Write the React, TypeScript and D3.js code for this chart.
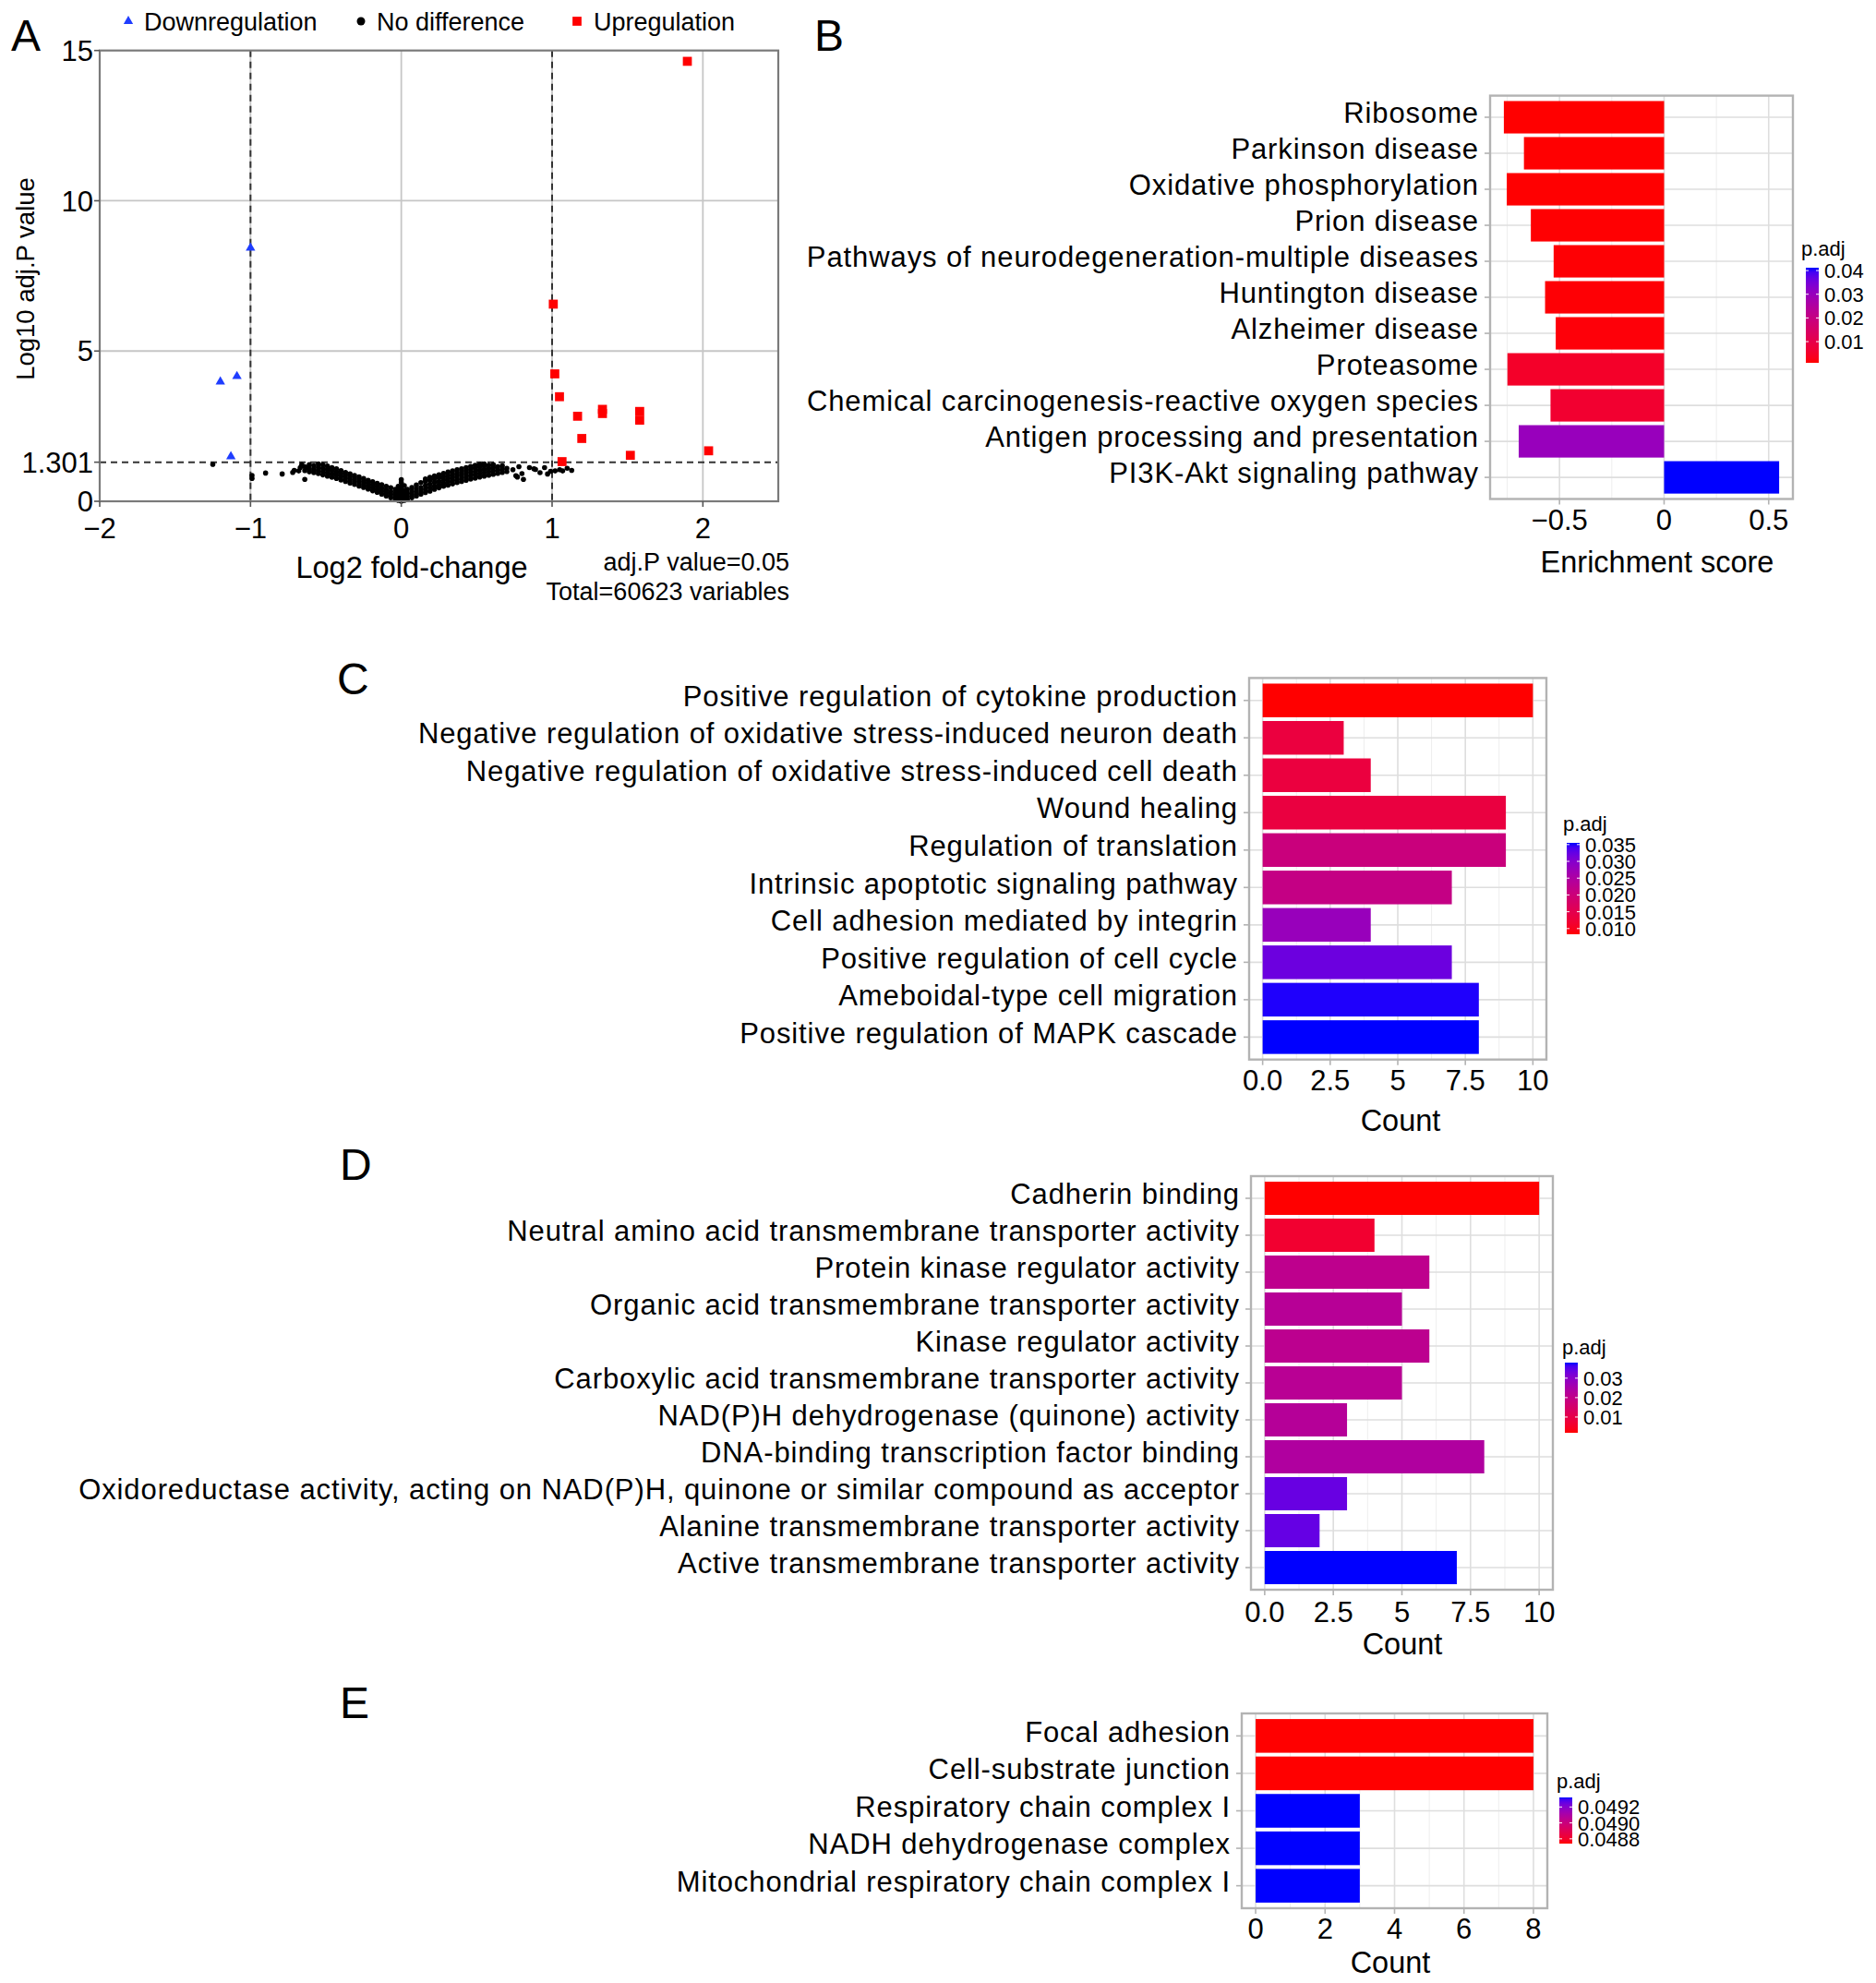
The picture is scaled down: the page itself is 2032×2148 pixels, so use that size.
import React from 'react';
import * as d3 from 'd3';

const FONT = "'Liberation Sans', Arial, Helvetica, sans-serif";

// ---------------- Panel A (volcano) data ----------------
const aXDomain: [number, number] = [-2, 2.5];
const aYDomain: [number, number] = [0, 15];
const aXTicks = [-2, -1, 0, 1, 2];
const aXTickLabels = ['\u22122', '\u22121', '0', '1', '2'];
const aYTicks = [0, 1.301, 5, 10, 15];
const aYTickLabels = ['0', '1.301', '5', '10', '15'];
const aXGrid = [-1, 0, 1, 2];
const aYGrid = [5, 10];
const aFoldCut = [-1, 1];
const aPCut = 1.301;

const downPoints: [number, number][] = [
  [-1.0, 8.43], [-1.2, 3.98], [-1.09, 4.16], [-1.13, 1.49],
];
const upPoints: [number, number][] = [
  [1.897, 14.64], [1.008, 6.56], [1.018, 4.24], [1.049, 3.48], [1.169, 2.83],
  [1.334, 3.06], [1.334, 2.92], [1.581, 2.99], [1.581, 2.7], [1.197, 2.09],
  [1.519, 1.53], [2.038, 1.68], [1.066, 1.32],
];
// no-difference cloud, read column by column: [log2FC, [log10 adj.P values]]
const noDiffColumns: [number, number[]][] = [
  [-0.64, [1.02, 1.15]],
  [-0.61, [0.98, 1.1, 1.22]],
  [-0.58, [0.95, 1.06, 1.18]],
  [-0.55, [0.92, 1.02, 1.13, 1.24]],
  [-0.52, [0.88, 0.99, 1.1, 1.21]],
  [-0.49, [0.84, 0.95, 1.06, 1.17]],
  [-0.46, [0.8, 0.91, 1.02, 1.12]],
  [-0.43, [0.76, 0.87, 0.97, 1.08]],
  [-0.4, [0.71, 0.82, 0.92, 1.02]],
  [-0.37, [0.66, 0.77, 0.87, 0.96]],
  [-0.34, [0.61, 0.72, 0.82, 0.91]],
  [-0.31, [0.56, 0.67, 0.77, 0.86]],
  [-0.28, [0.51, 0.62, 0.72, 0.81]],
  [-0.25, [0.46, 0.56, 0.66, 0.76]],
  [-0.22, [0.41, 0.51, 0.61, 0.7]],
  [-0.19, [0.35, 0.45, 0.55, 0.65]],
  [-0.16, [0.3, 0.4, 0.5, 0.6]],
  [-0.13, [0.24, 0.34, 0.44, 0.55]],
  [-0.1, [0.18, 0.28, 0.38, 0.5]],
  [-0.07, [0.12, 0.22, 0.32, 0.45]],
  [-0.04, [0.06, 0.16, 0.27, 0.4]],
  [-0.02, [0.03, 0.12, 0.24, 0.36, 0.5]],
  [0.0, [0.0, 0.1, 0.22, 0.35, 0.48, 0.62, 0.72]],
  [0.02, [0.03, 0.12, 0.24, 0.36, 0.52]],
  [0.04, [0.06, 0.16, 0.27, 0.4]],
  [0.07, [0.12, 0.22, 0.33, 0.46]],
  [0.1, [0.18, 0.28, 0.4, 0.54]],
  [0.13, [0.24, 0.34, 0.46, 0.62]],
  [0.16, [0.29, 0.4, 0.52, 0.66, 0.74]],
  [0.19, [0.34, 0.45, 0.57, 0.7, 0.8]],
  [0.22, [0.4, 0.5, 0.62, 0.74, 0.84]],
  [0.25, [0.45, 0.55, 0.66, 0.78, 0.88]],
  [0.28, [0.5, 0.6, 0.71, 0.82, 0.93]],
  [0.31, [0.54, 0.65, 0.76, 0.86, 0.97]],
  [0.34, [0.58, 0.69, 0.8, 0.9, 1.01]],
  [0.37, [0.62, 0.73, 0.84, 0.94, 1.05]],
  [0.4, [0.66, 0.77, 0.88, 0.98, 1.08]],
  [0.43, [0.7, 0.81, 0.92, 1.02, 1.12]],
  [0.46, [0.74, 0.85, 0.96, 1.06, 1.16]],
  [0.49, [0.77, 0.88, 0.99, 1.1, 1.2]],
  [0.52, [0.81, 0.92, 1.03, 1.14, 1.23]],
  [0.55, [0.84, 0.95, 1.06, 1.17, 1.24]],
  [0.58, [0.87, 0.98, 1.09, 1.2]],
  [0.61, [0.9, 1.01, 1.12, 1.22]],
  [0.64, [0.93, 1.04, 1.15]],
  [0.67, [0.96, 1.07, 1.18]],
  [0.7, [0.99, 1.1]],
];
const noDiffScatter: [number, number][] = [
  [-1.25, 1.23], [-0.99, 0.86], [-0.99, 0.76], [-0.9, 0.94], [-0.79, 0.91],
  [-0.72, 0.96], [-0.71, 1.03], [-0.68, 1.01], [-0.67, 1.12], [-0.64, 0.73],
  [-0.62, 1.12], [-0.58, 1.01], [-0.66, 1.22],
  [0.74, 1.05], [0.76, 0.85], [0.77, 0.81], [0.78, 1.15], [0.8, 0.92], [0.81, 0.73],
  [0.85, 1.12], [0.88, 1.08], [0.89, 1.06], [0.92, 0.95], [0.95, 1.12],
  [0.97, 0.91], [0.99, 1.0], [1.02, 1.01], [1.05, 1.05], [1.07, 1.01],
  [1.1, 1.1], [1.13, 1.03],
];

// ---------------- Panel B (KEGG GSEA) data ----------------
const bCategories = [
  'Ribosome', 'Parkinson disease', 'Oxidative phosphorylation', 'Prion disease',
  'Pathways of neurodegeneration-multiple diseases', 'Huntington disease',
  'Alzheimer disease', 'Proteasome', 'Chemical carcinogenesis-reactive oxygen species',
  'Antigen processing and presentation', 'PI3K-Akt signaling pathway',
];
const bScores = [-0.766, -0.67, -0.752, -0.637, -0.528, -0.569, -0.518, -0.749, -0.543, -0.695, 0.55];
const bPadj = [0.00105, 0.0011, 0.0011, 0.0012, 0.0013, 0.0014, 0.0016, 0.005, 0.006, 0.03, 0.0412];
const bTicks = [-0.5, 0, 0.5];
const bTickLabels = ['\u22120.5', '0', '0.5'];
const bMinor = [-0.75, -0.25, 0.25];
const bLegendTicks = [0.01, 0.02, 0.03, 0.04];
const bLegendLabels = ['0.01', '0.02', '0.03', '0.04'];

// ---------------- Panel C (GO BP) data ----------------
const cCategories = [
  'Positive regulation of cytokine production',
  'Negative regulation of oxidative stress-induced neuron death',
  'Negative regulation of oxidative stress-induced cell death',
  'Wound healing', 'Regulation of translation', 'Intrinsic apoptotic signaling pathway',
  'Cell adhesion mediated by integrin', 'Positive regulation of cell cycle',
  'Ameboidal-type cell migration', 'Positive regulation of MAPK cascade',
];
const cCounts = [10, 3, 4, 9, 9, 7, 4, 7, 8, 8];
const cPadj = [0.0083, 0.0132, 0.0132, 0.0134, 0.0205, 0.0214, 0.0279, 0.032, 0.0352, 0.0355];
const cdTicks = [0, 2.5, 5, 7.5, 10];
const cdTickLabels = ['0.0', '2.5', '5', '7.5', '10'];
const cdMinor = [1.25, 3.75, 6.25, 8.75];
const cLegendTicks = [0.01, 0.015, 0.02, 0.025, 0.03, 0.035];
const cLegendLabels = ['0.010', '0.015', '0.020', '0.025', '0.030', '0.035'];

// ---------------- Panel D (GO MF) data ----------------
const dCategories = [
  'Cadherin binding', 'Neutral amino acid transmembrane transporter activity',
  'Protein kinase regulator activity', 'Organic acid transmembrane transporter activity',
  'Kinase regulator activity', 'Carboxylic acid transmembrane transporter activity',
  'NAD(P)H dehydrogenase (quinone) activity', 'DNA-binding transcription factor binding',
  'Oxidoreductase activity, acting on NAD(P)H, quinone or similar compound as acceptor',
  'Alanine transmembrane transporter activity', 'Active transmembrane transporter activity',
];
const dCounts = [10, 4, 6, 5, 6, 5, 3, 8, 3, 2, 7];
const dPadj = [0.0019, 0.0063, 0.0207, 0.0222, 0.0211, 0.0218, 0.0225, 0.0236, 0.0337, 0.034, 0.038];
const dLegendTicks = [0.01, 0.02, 0.03];
const dLegendLabels = ['0.01', '0.02', '0.03'];

// ---------------- Panel E (GO CC) data ----------------
const eCategories = [
  'Focal adhesion', 'Cell-substrate junction', 'Respiratory chain complex I',
  'NADH dehydrogenase complex', 'Mitochondrial respiratory chain complex I',
];
const eCounts = [8, 8, 3, 3, 3];
const ePadj = [0.04874, 0.04874, 0.04932, 0.04932, 0.04932];
const eTicks = [0, 2, 4, 6, 8];
const eTickLabels = ['0', '2', '4', '6', '8'];
const eMinor = [1, 3, 5, 7];
const eLegendTicks = [0.0488, 0.049, 0.0492];
const eLegendLabels = ['0.0488', '0.0490', '0.0492'];

const LOW = '#ff0000';
const HIGH = '#0000ff';
const BORDER = '#b3b3b3';
const GRID = '#dedede';
const GRID_MINOR = '#eeeeee';

function VolcanoPanel() {
  const L = 108, R = 843, T = 54.7, B = 543;
  const x = d3.scaleLinear().domain(aXDomain).range([L, R]);
  const y = d3.scaleLinear().domain(aYDomain).range([B, T]);
  const cloud: [number, number][] = noDiffColumns
    .flatMap(([cx, ys]) => ys.map((v) => [cx, v] as [number, number]))
    .concat(noDiffScatter);
  const tri = d3.symbol(d3.symbolTriangle, 46)() as string;
  const sq = d3.symbol(d3.symbolSquare, 95)() as string;
  return (
    <g>
      <text x={12} y={55} fontSize={48}>A</text>
      {/* legend */}
      <path d={tri} transform="translate(139,23)" fill="#1f3dff" />
      <text x={156} y={32.5} fontSize={27}>Downregulation</text>
      <circle cx={391} cy={23} r={4.5} fill="#000" />
      <text x={408} y={32.5} fontSize={27}>No difference</text>
      <path d={sq} transform="translate(625,23)" fill="#ff0000" />
      <text x={643} y={32.5} fontSize={27}>Upregulation</text>

      <rect x={L} y={T} width={R - L} height={B - T} fill="#fff" />
      {aXGrid.map((v) => (
        <line key={'gx' + v} x1={x(v)} x2={x(v)} y1={T} y2={B} stroke="#c6c6c6" strokeWidth={1.8} />
      ))}
      {aYGrid.map((v) => (
        <line key={'gy' + v} x1={L} x2={R} y1={y(v)} y2={y(v)} stroke="#c6c6c6" strokeWidth={1.8} />
      ))}
      {aFoldCut.map((v) => (
        <line key={'fc' + v} x1={x(v)} x2={x(v)} y1={T} y2={B} stroke="#333" strokeWidth={2} strokeDasharray="7,5" />
      ))}
      <line x1={L} x2={R} y1={y(aPCut)} y2={y(aPCut)} stroke="#333" strokeWidth={2} strokeDasharray="7,5" />
      {cloud.map(([a, b], i) => (
        <circle key={'n' + i} cx={x(a)} cy={y(b)} r={2.8} fill="#000" />
      ))}
      {downPoints.map(([a, b], i) => (
        <path key={'d' + i} d={tri} transform={`translate(${x(a)},${y(b)})`} fill="#1f3dff" />
      ))}
      {upPoints.map(([a, b], i) => (
        <path key={'u' + i} d={sq} transform={`translate(${x(a)},${y(b)})`} fill="#ff0000" />
      ))}
      <rect x={L} y={T} width={R - L} height={B - T} fill="none" stroke="#7a7a7a" strokeWidth={2.2} />
      {aXTicks.map((v, i) => (
        <g key={'xt' + v}>
          <line x1={x(v)} x2={x(v)} y1={B} y2={B + 6} stroke="#555" strokeWidth={1.6} />
          <text x={x(v)} y={583} fontSize={31} textAnchor="middle">{aXTickLabels[i]}</text>
        </g>
      ))}
      {aYTicks.map((v, i) => (
        <g key={'yt' + v}>
          <line x1={L - 6} x2={L} y1={y(v)} y2={y(v)} stroke="#555" strokeWidth={1.6} />
          <text x={101} y={y(v)} dy="0.36em" fontSize={31} textAnchor="end">{aYTickLabels[i]}</text>
        </g>
      ))}
      <text x={446} y={626} fontSize={32.5} textAnchor="middle">Log2 fold-change</text>
      <text transform="translate(37,302) rotate(-90)" fontSize={27.5} textAnchor="middle">Log10 adj.P value</text>
      <text x={855} y={618} fontSize={27} textAnchor="end">adj.P value=0.05</text>
      <text x={855} y={650} fontSize={27} textAnchor="end">Total=60623 variables</text>
    </g>
  );
}

interface LegendSpec {
  id: string;
  titleX: number;
  titleY: number;
  barX: number;
  barTop: number;
  barBottom: number;
  ticks: number[];
  labels: string[];
}

interface BarPanelProps {
  letter: string;
  letterX: number;
  letterY: number;
  left: number;
  right: number;
  top: number;
  bottom: number;
  categories: string[];
  values: number[];
  padj: number[];
  ticks: number[];
  tickLabels: string[];
  minor: number[];
  tickLabelY: number;
  title: string;
  titleX: number;
  titleY: number;
  legend: LegendSpec;
}

function BarPanel(p: BarPanelProps) {
  const lo = Math.min(0, d3.min(p.values) as number);
  const hi = Math.max(0, d3.max(p.values) as number);
  const pad = (hi - lo) * 0.05;
  const x = d3.scaleLinear().domain([lo - pad, hi + pad]).range([p.left, p.right]);
  const y = d3.scalePoint<string>().domain(p.categories).range([p.top, p.bottom]).padding(0.6);
  const step = y.step();
  const bh = step * 0.9;
  const ext = d3.extent(p.padj) as [number, number];
  const color = d3.scaleLinear<string>().domain(ext).range([LOW, HIGH]).interpolate(d3.interpolateLab);
  const lg = p.legend;
  const ly = d3.scaleLinear().domain(ext).range([lg.barBottom, lg.barTop]);
  const barW = 14;
  const stops = d3.range(0, 1.0001, 0.05);
  const interp = d3.interpolateLab(LOW, HIGH);
  return (
    <g>
      <text x={p.letterX} y={p.letterY} fontSize={48}>{p.letter}</text>
      <rect x={p.left} y={p.top} width={p.right - p.left} height={p.bottom - p.top} fill="#fff" />
      {p.minor.map((v) => (
        <line key={'mn' + v} x1={x(v)} x2={x(v)} y1={p.top} y2={p.bottom} stroke={GRID_MINOR} strokeWidth={1} />
      ))}
      {p.ticks.map((v) => (
        <line key={'mj' + v} x1={x(v)} x2={x(v)} y1={p.top} y2={p.bottom} stroke={GRID} strokeWidth={1.6} />
      ))}
      {p.categories.map((c) => (
        <line key={'hg' + c} x1={p.left} x2={p.right} y1={y(c)} y2={y(c)} stroke={GRID} strokeWidth={1.6} />
      ))}
      {p.categories.map((c, i) => {
        const v = p.values[i];
        const x0 = x(Math.min(0, v));
        const x1 = x(Math.max(0, v));
        return (
          <rect key={'bar' + c} x={x0} y={(y(c) as number) - bh / 2} width={x1 - x0} height={bh} fill={color(p.padj[i])} />
        );
      })}
      <rect x={p.left} y={p.top} width={p.right - p.left} height={p.bottom - p.top} fill="none" stroke={BORDER} strokeWidth={2.4} />
      {p.categories.map((c) => (
        <g key={'lab' + c}>
          <line x1={p.left - 6} x2={p.left} y1={y(c)} y2={y(c)} stroke={BORDER} strokeWidth={1.6} />
          <text x={p.left - 12} y={y(c)} dy="0.2em" fontSize={31} letterSpacing={0.9} textAnchor="end">{c}</text>
        </g>
      ))}
      {p.ticks.map((v, i) => (
        <g key={'xt' + v}>
          <line x1={x(v)} x2={x(v)} y1={p.bottom} y2={p.bottom + 6} stroke={BORDER} strokeWidth={1.6} />
          <text x={x(v)} y={p.tickLabelY} fontSize={31} textAnchor="middle">{p.tickLabels[i]}</text>
        </g>
      ))}
      <text x={p.titleX} y={p.titleY} fontSize={32.5} textAnchor="middle">{p.title}</text>
      {/* colour bar legend */}
      <defs>
        <linearGradient id={lg.id} x1="0" y1="1" x2="0" y2="0">
          {stops.map((t) => (
            <stop key={t} offset={t} stopColor={interp(t)} />
          ))}
        </linearGradient>
      </defs>
      <text x={lg.titleX} y={lg.titleY} fontSize={22}>p.adj</text>
      <rect x={lg.barX} y={lg.barTop} width={barW} height={lg.barBottom - lg.barTop} fill={`url(#${lg.id})`} />
      {lg.ticks.map((v, i) => (
        <g key={'lt' + v}>
          <line x1={lg.barX} x2={lg.barX + 3} y1={ly(v)} y2={ly(v)} stroke="#fff" strokeWidth={1} />
          <line x1={lg.barX + barW - 3} x2={lg.barX + barW} y1={ly(v)} y2={ly(v)} stroke="#fff" strokeWidth={1} />
          <text x={lg.barX + barW + 6} y={ly(v)} dy="0.36em" fontSize={22}>{lg.labels[i]}</text>
        </g>
      ))}
    </g>
  );
}

export default function App() {
  return (
    <svg
      width={2032}
      height={2148}
      viewBox="0 0 2032 2148"
      style={{ position: 'absolute', left: 0, top: 0, background: '#fff' }}
      fontFamily={FONT}
    >
      <rect width={2032} height={2148} fill="#fff" />
      <VolcanoPanel />
      <BarPanel
        letter="B" letterX={882} letterY={55}
        left={1614} right={1942} top={103.6} bottom={540.5}
        categories={bCategories} values={bScores} padj={bPadj}
        ticks={bTicks} tickLabels={bTickLabels} minor={bMinor} tickLabelY={574}
        title="Enrichment score" titleX={1795} titleY={620}
        legend={{ id: 'gB', titleX: 1951, titleY: 277, barX: 1956, barTop: 290, barBottom: 393, ticks: bLegendTicks, labels: bLegendLabels }}
      />
      <BarPanel
        letter="C" letterX={365} letterY={752}
        left={1353} right={1675} top={734.4} bottom={1147.7}
        categories={cCategories} values={cCounts} padj={cPadj}
        ticks={cdTicks} tickLabels={cdTickLabels} minor={cdMinor} tickLabelY={1181}
        title="Count" titleX={1517} titleY={1225}
        legend={{ id: 'gC', titleX: 1693, titleY: 900, barX: 1697, barTop: 913, barBottom: 1012, ticks: cLegendTicks, labels: cLegendLabels }}
      />
      <BarPanel
        letter="D" letterX={368} letterY={1278}
        left={1355} right={1682} top={1274} bottom={1722}
        categories={dCategories} values={dCounts} padj={dPadj}
        ticks={cdTicks} tickLabels={cdTickLabels} minor={cdMinor} tickLabelY={1757}
        title="Count" titleX={1519} titleY={1792}
        legend={{ id: 'gD', titleX: 1692, titleY: 1467, barX: 1695, barTop: 1476, barBottom: 1552, ticks: dLegendTicks, labels: dLegendLabels }}
      />
      <BarPanel
        letter="E" letterX={368} letterY={1861}
        left={1345} right={1676} top={1856} bottom={2067}
        categories={eCategories} values={eCounts} padj={ePadj}
        ticks={eTicks} tickLabels={eTickLabels} minor={eMinor} tickLabelY={2100}
        title="Count" titleX={1506} titleY={2137}
        legend={{ id: 'gE', titleX: 1686, titleY: 1937, barX: 1689, barTop: 1947, barBottom: 1997, ticks: eLegendTicks, labels: eLegendLabels }}
      />
    </svg>
  );
}
